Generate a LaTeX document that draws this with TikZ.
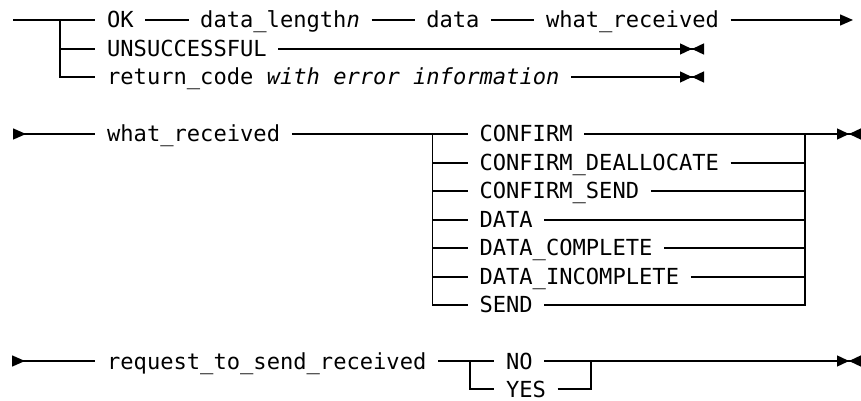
\documentclass[tikz,border=0pt]{standalone}
\usepackage{fontspec}
\setmonofont{DejaVu Sans Mono}
\usetikzlibrary{arrows.meta}

\begin{document}
\begin{tikzpicture}[line width=1.4bp, >={Triangle[length=13bp 0 0,width=11bp 0 0]}]
 \tikzstyle{every node}=[font=\fontsize{22.1bp}{28bp}\selectfont\ttfamily,
   inner xsep=11bp, inner ysep=0pt, text height=16bp, text depth=0pt, anchor=west]
 \tikzstyle{startmark}=[{Triangle[reversed,length=13bp 0 0,width=11bp 0 0]}-]
 \tikzstyle{endmark}=[-{Triangle[length=12bp 0 0,width=11bp 0 0] Triangle[reversed,length=12bp 0 0,width=11bp 0 0]}]
 \useasboundingbox (0bp,0bp) rectangle (861bp,401bp);

 % return values
 \coordinate (init0) at (13bp,381bp);
 \coordinate (split0) at (60bp,381bp);
 \coordinate (out0) at (853bp,381bp);
 \coordinate (out1) at (704bp,352bp);
 \coordinate (out2) at (704bp,324bp);
 \node (OK) at (95.4bp,381bp) {OK};
 \node (len) at (188.5bp,381bp) {data\_length\textit{n}};
 \node (data) at (414.6bp,381bp) {data};
 \node (what) at (534.3bp,381bp) {what\_received};
 \node (unsucc) at (95.4bp,352bp) {UNSUCCESSFUL};
 \node (rc) at (95.4bp,324bp) {return\_code \textit{with error information}};

 \draw (init0) -- (OK);
 \draw (OK) -- (len);
 \draw (len) -- (data);
 \draw (data) -- (what);
 \draw [->] (what) -- (out0);
 \draw (split0) |- (unsucc);
 \draw [endmark] (unsucc) -- (out1);
 \draw (split0) |- (rc);
 \draw [endmark] (rc) -- (out2);

 % what_received values, rows are about 28.5bp apart
 \coordinate (init4) at (13bp,267bp);
 \coordinate (split4) at (432.5bp,267bp);
 \coordinate (join4) at (805bp,267bp);
 \coordinate (out4) at (861bp,267bp);
 \node (recv) at (95.4bp,267bp) {what\_received};
 \node (confirm) at (467.8bp,267bp) {CONFIRM};
 \node (cdealloc) at (467.8bp,238bp) {CONFIRM\_DEALLOCATE};
 \node (csend) at (467.8bp,210bp) {CONFIRM\_SEND};
 \node (dat) at (467.8bp,181bp) {DATA};
 \node (dcompl) at (467.8bp,153bp) {DATA\_COMPLETE};
 \node (dincompl) at (467.8bp,124bp) {DATA\_INCOMPLETE};
 \node (snd) at (467.8bp,96bp) {SEND};

 \draw [startmark] (init4) -- (recv);
 \draw (recv) -- (confirm);
 \draw (split4) |- (cdealloc);
 \draw (split4) |- (csend);
 \draw (split4) |- (dat);
 \draw (split4) |- (dcompl);
 \draw (split4) |- (dincompl);
 \draw (split4) |- (snd);
 \draw (confirm) -- (join4);
 \draw (cdealloc) -| (join4);
 \draw (csend) -| (join4);
 \draw (dat) -| (join4);
 \draw (dcompl) -| (join4);
 \draw (dincompl) -| (join4);
 \draw (snd) -| (join4);
 \draw [endmark] (join4) -- (out4);

 % request_to_send_received values
 \coordinate (init12) at (12bp,40bp);
 \coordinate (split12) at (470bp,40bp);
 \coordinate (join12) at (591bp,40bp);
 \coordinate (out12) at (861bp,40bp);
 \node (rts) at (95.4bp,40bp) {request\_to\_send\_received};
 \node (no) at (494.4bp,40bp) {NO};
 \node (yes) at (494.4bp,12bp) {YES};

 \draw [startmark] (init12) -- (rts);
 \draw (rts) -- (no);
 \draw (split12) |- (yes);
 \draw (no) -- (join12);
 \draw (yes) -| (join12);
 \draw [endmark] (join12) -- (out12);
\end{tikzpicture}
\end{document}
